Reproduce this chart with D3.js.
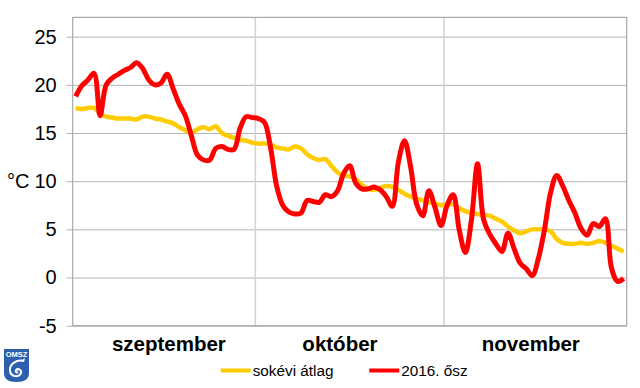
<!DOCTYPE html>
<html>
<head>
<meta charset="utf-8">
<script src="https://cdn.jsdelivr.net/npm/d3@7"></script>
<style>
  body { margin: 0; background: #fff; }
  text { font-family: "Liberation Sans", Arial, sans-serif; }
</style>
</head>
<body>
<svg id="chart" width="640" height="388"></svg>
<script>
// categories: every day of autumn 2016
const days = d3.utcDays(new Date(Date.UTC(2016, 8, 1)), new Date(Date.UTC(2016, 11, 1)));
const months = ["szeptember", "október", "november"];
const yTicks = [-5, 0, 5, 10, 15, 20, 25];
const seriesNames = ["sokévi átlag", "2016. ősz"];

// sokévi átlag (long-term mean), °C
const avgTemp = [
  17.6, 17.5, 17.6, 17.6, 17.0, 16.7, 16.6, 16.5, 16.5, 16.5,
  16.4, 16.7, 16.7, 16.5, 16.4, 16.2, 16.0, 15.6, 15.3, 15.0,
  15.4, 15.6, 15.4, 15.7, 15.0, 14.7, 14.5, 14.3, 14.2, 14.0,
  13.9, 13.9, 13.8, 13.5, 13.4, 13.3, 13.6, 13.4, 12.8, 12.4,
  12.2, 12.3, 11.6, 10.9, 10.6, 10.5, 10.2, 9.6, 9.2, 9.1,
  9.3, 9.5, 9.4, 9.1, 8.7, 8.4, 8.2, 8.0, 7.8, 7.7,
  7.5, 7.6, 7.6, 7.2, 6.9, 6.7, 6.6, 6.5, 6.4, 6.1,
  5.8, 5.3, 4.9, 4.6, 4.8, 5.0, 5.0, 5.0, 4.8, 4.0,
  3.6, 3.5, 3.5, 3.6, 3.5, 3.6, 3.8, 3.6, 3.3, 3.0,
  2.7
];

// 2016. ősz (daily mean), °C
const temp2016 = [
  18.8, 19.9, 20.5, 21.2, 16.8, 20.0, 20.7, 21.1, 21.5, 21.8,
  22.3, 21.7, 20.5, 20.0, 20.2, 21.1, 19.6, 18.0, 16.8, 14.7,
  12.7, 12.2, 12.2, 13.4, 13.6, 13.3, 13.3, 15.5, 16.7, 16.6,
  16.5, 16.1, 13.5, 9.5, 7.5, 6.8, 6.6, 6.7, 8.0, 7.9,
  7.8, 8.6, 8.4, 9.0, 10.8, 11.6, 9.8, 9.2, 9.2, 9.4,
  9.1, 8.4, 7.4, 12.0, 14.2, 11.5, 7.6, 6.4, 9.0, 7.3,
  5.4, 7.5, 8.6, 4.9, 2.6, 6.0, 11.8, 6.0, 4.5, 3.5,
  2.7, 4.6, 3.0, 1.5, 0.9, 0.2, 2.0, 5.0, 8.8, 10.6,
  9.5, 8.0, 6.7, 5.1, 4.4, 5.6, 5.3, 6.1, 1.0, -0.4,
  -0.1
];

const colors = ["#ffcc00", "#ff0000"];

const plotLeft = 72.7, plotRight = 626.7, plotTop = 17.4, plotBottom = 325.7;
const svg = d3.select("#chart");

const x = d3.scaleLinear().domain([0, days.length]).range([plotLeft, plotRight]);
const y = d3.scaleLinear().domain([-5, 27]).range([plotBottom, plotTop]);

// month boundaries (index of first day of each month)
const monthStarts = days.map((d, i) => d.getUTCDate() === 1 ? i : -1).filter(i => i >= 0);

// horizontal grid + y labels
const yAxis = svg.append("g")
  .attr("transform", `translate(${plotLeft},0)`)
  .call(d3.axisLeft(y).tickValues(yTicks).tickSize(6).tickPadding(10).tickFormat(d => String(d)))
  .call(g => g.select(".domain").remove());
yAxis.selectAll(".tick line").clone()
  .attr("x2", plotRight - plotLeft);
yAxis.selectAll(".tick line").attr("stroke", "#b4b4b4");
yAxis.selectAll(".tick text")
  .attr("font-size", 20)
  .attr("fill", "#000")
  .attr("font-family", "'Liberation Sans', Arial, sans-serif");

svg.append("text")
  .attr("x", 7)
  .attr("y", y(10))
  .attr("dy", "0.35em")
  .attr("font-size", 20)
  .text("°C");

// vertical month separators
svg.append("g")
  .selectAll("line")
  .data(monthStarts.slice(1))
  .join("line")
  .attr("x1", d => x(d)).attr("x2", d => x(d))
  .attr("y1", plotTop).attr("y2", plotBottom)
  .attr("stroke", "#d6d0d0")
  .attr("stroke-width", 1.5);

// plot border
svg.append("rect")
  .attr("x", plotLeft).attr("y", plotTop)
  .attr("width", plotRight - plotLeft).attr("height", plotBottom - plotTop)
  .attr("fill", "none")
  .attr("stroke", "#a8a8a8")
  .attr("stroke-width", 1.2);

// month labels
const labelAt = [15.3, 43.4, 74.75];
svg.append("g")
  .selectAll("text")
  .data(months)
  .join("text")
  .attr("x", (d, i) => x(labelAt[i] + 0.5))
  .attr("y", 351)
  .attr("text-anchor", "middle")
  .attr("font-size", 20.5)
  .attr("font-weight", "bold")
  .text(d => d);

// lines
const line = d3.line()
  .x((d, i) => x(i + 0.5))
  .y(d => y(d))
  .curve(d3.curveCatmullRom.alpha(0.5));

[avgTemp, temp2016].forEach((s, k) => {
  svg.append("path")
    .datum(s)
    .attr("fill", "none")
    .attr("stroke", colors[k])
    .attr("stroke-width", k ? 5 : 4.5)
    .attr("stroke-linejoin", "round")
    .attr("d", line);
});

// legend
const legendX = [220.7, 369.3];
const legend = svg.append("g")
  .selectAll("g")
  .data(seriesNames)
  .join("g")
  .attr("transform", (d, i) => `translate(${legendX[i]},370.5)`);
legend.append("line")
  .attr("x1", 0).attr("x2", 30)
  .attr("stroke", (d, i) => colors[i])
  .attr("stroke-width", 4);
legend.append("text")
  .attr("x", 32)
  .attr("dy", "0.35em")
  .attr("font-size", 15.3)
  .text(d => d);

// OMSZ logo
const logo = svg.append("g").attr("transform", "translate(4,349)");
logo.append("path")
  .attr("d", "M0,0H25V24Q25,33 12.5,33Q0,33 0,24Z")
  .attr("fill", "#2c5fae");
logo.append("text")
  .attr("x", 12.5).attr("y", 8)
  .attr("text-anchor", "middle")
  .attr("font-size", 7.5)
  .attr("font-weight", "bold")
  .attr("fill", "#fff")
  .text("OMSZ");
logo.append("path")
  .attr("d", "M20,12C13,10 5,15 6,22C7,28 15,29 17,24C18,21 14,19 12,21C11,23 13,24 14,23")
  .attr("fill", "none")
  .attr("stroke", "#fff")
  .attr("stroke-width", 2);
logo.append("path")
  .attr("d", "M18,11L21,9L20,13Z")
  .attr("fill", "#fff");
</script>
</body>
</html>
